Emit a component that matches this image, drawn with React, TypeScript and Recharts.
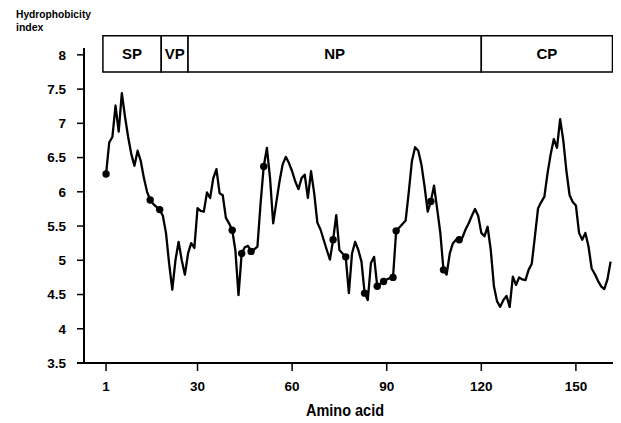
import React from 'react';
import { LineChart, Line, XAxis, YAxis, ReferenceArea, Customized } from 'recharts';

const residues: number[] = Array.from({ length: 161 }, (_, i) => i + 1);

const hydrophobicity: number[] = [
  6.26, 6.72, 6.8, 7.26, 6.88, 7.44, 7.1, 6.8, 6.55, 6.38,
  6.6, 6.45, 6.2, 6.0, 5.88, 5.82, 5.78, 5.74, 5.65, 5.4,
  4.95, 4.57, 5.0, 5.27, 5.0, 4.79, 5.1, 5.25, 5.18, 5.76,
  5.72, 5.71, 5.99, 5.91, 6.2, 6.33, 5.98, 5.95, 5.62, 5.54,
  5.44, 5.15, 4.49, 5.1, 5.19, 5.21, 5.13, 5.16, 5.2, 5.83,
  6.37, 6.64, 6.2, 5.54, 5.85, 6.15, 6.4, 6.51, 6.42, 6.3,
  6.15, 6.04, 6.2, 6.25, 5.91, 6.3, 5.98, 5.55, 5.45, 5.3,
  5.15, 5.01, 5.3, 5.66, 5.15, 5.1, 5.05, 4.52, 5.1, 5.27,
  5.15, 4.98, 4.52, 4.42, 4.96, 5.05, 4.62, 4.66, 4.69, 4.72,
  4.74, 4.75, 5.43, 5.48, 5.53, 5.58, 6.0, 6.45, 6.65, 6.6,
  6.4, 6.08, 5.71, 5.86, 6.09, 5.75, 5.4, 4.86, 4.79, 5.1,
  5.25, 5.3, 5.3, 5.33, 5.45, 5.54, 5.65, 5.75, 5.65, 5.4,
  5.35, 5.49, 5.15, 4.62, 4.4, 4.32, 4.42, 4.48, 4.32, 4.76,
  4.64, 4.75, 4.72, 4.71, 4.86, 4.95, 5.35, 5.76, 5.85, 5.93,
  6.27, 6.55, 6.77, 6.64, 7.06, 6.75, 6.3, 5.95, 5.85, 5.8,
  5.4, 5.3, 5.4, 5.2, 4.88, 4.8, 4.7, 4.62, 4.58, 4.72,
  4.98,
];

const markedSites: number[] = [1, 15, 18, 41, 44, 47, 51, 73, 77, 83, 87, 89, 92, 93, 104, 108, 113];

const regionNames: string[] = ['SP', 'VP', 'NP', 'CP'];
const regionStarts: number[] = [0, 18.5, 27, 120];
const regionEnds: number[] = [18.5, 27, 120, 161.6];
const regionBottom = 7.75;
const regionTop = 8.28;

const xTicks: number[] = [1, 30, 60, 90, 120, 150];
const yTicks: number[] = [3.5, 4, 4.5, 5, 5.5, 6, 6.5, 7, 7.5, 8];

const data = residues.map((aa, i) => ({ aa, h: hydrophobicity[i] }));
const markedSet = new Set(markedSites);

const FONT = '"Liberation Sans", Arial, Helvetica, sans-serif';

const renderDot = (props: any) => {
  const { cx, cy, payload, index } = props;
  if (!payload || !markedSet.has(payload.aa)) return <g key={`d-${index}`} />;
  return <circle key={`d-${index}`} cx={cx} cy={cy} r={3.7} fill="#000" stroke="none" />;
};

const Overlay = () => (
  <g>
    <text x={8} y={10} fontFamily={FONT} fontWeight="bold" fontSize={10.5} fill="#000" textLength={75} lengthAdjust="spacingAndGlyphs">
      Hydrophobicity
    </text>
    <text x={8} y={23} fontFamily={FONT} fontWeight="bold" fontSize={10.5} fill="#000">
      index
    </text>
    <text x={337} y={408} fontFamily={FONT} fontWeight="bold" fontSize={16} fill="#000" textAnchor="middle" textLength={78} lengthAdjust="spacingAndGlyphs">
      Amino acid
    </text>
    <line x1={69} y1={355} x2={77} y2={355} stroke="#000" strokeWidth={2} />
  </g>
);

export default function App() {
  return (
    <LineChart
      width={613}
      height={415}
      data={data}
      margin={{ top: 40, right: 0, bottom: 0, left: 0 }}
      style={{ fontFamily: FONT }}
    >
      <XAxis
        dataKey="aa"
        type="number"
        domain={[-6, 164.3]}
        ticks={xTicks}
        allowDataOverflow
        height={60}
        tickSize={8}
        tickMargin={10}
        axisLine={{ stroke: '#000', strokeWidth: 2 }}
        tickLine={{ stroke: '#000', strokeWidth: 1.5 }}
        tick={{ fill: '#000', fontSize: 13.5, fontWeight: 'bold', fontFamily: FONT }}
      />
      <YAxis
        type="number"
        domain={[3.5, 8.1]}
        ticks={yTicks}
        allowDataOverflow
        width={76}
        tickSize={7}
        tickMargin={11}
        axisLine={{ stroke: '#000', strokeWidth: 2 }}
        tickLine={{ stroke: '#000', strokeWidth: 1.5 }}
        tick={{ fill: '#000', fontSize: 13.5, fontWeight: 'bold', fontFamily: FONT }}
      />
      {regionNames.map((name, i) => (
        <ReferenceArea
          key={name}
          x1={regionStarts[i]}
          x2={regionEnds[i]}
          y1={regionBottom}
          y2={regionTop}
          ifOverflow="visible"
          fill="#fff"
          fillOpacity={1}
          stroke="#000"
          strokeWidth={1.5}
          label={{ value: name, position: 'center', fill: '#000', fontSize: 15, fontWeight: 'bold', fontFamily: FONT }}
        />
      ))}
      <Line
        type="linear"
        dataKey="h"
        stroke="#000"
        strokeWidth={2.3}
        strokeLinejoin="round"
        dot={renderDot}
        activeDot={false}
        isAnimationActive={false}
      />
      <Customized component={Overlay} />
    </LineChart>
  );
}
